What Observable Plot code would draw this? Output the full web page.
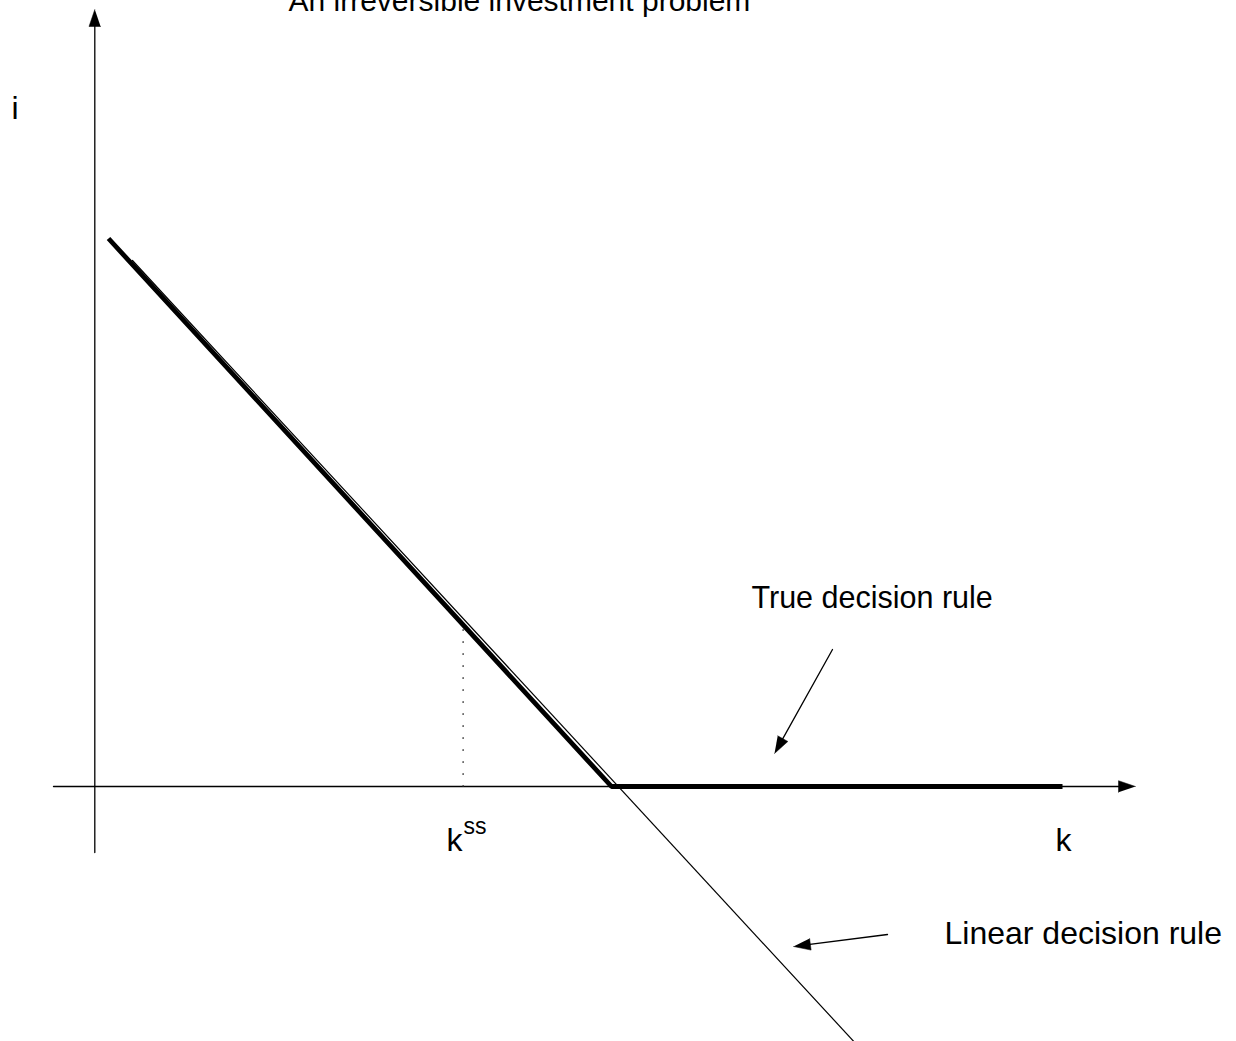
<!DOCTYPE html>
<html><head><meta charset="utf-8">
<script src="https://cdn.jsdelivr.net/npm/d3@7"></script>
<script src="https://cdn.jsdelivr.net/npm/@observablehq/plot@0.6"></script>
<style>body{margin:0;background:#fff} svg{display:block}</style>
</head><body><div id="chart"></div>
<script>
// ---- data (abstract units: 1 unit of k or i) ----
const titleText = "An irreversible investment problem";
const trueRule = [ {k: 0.137, i: 5.48}, {k: 5.167, i: 0}, {k: 9.677, i: 0} ];
const linearRule = [ {k: 0.377, i: 5.26}, {k: 7.627, i: -2.59} ];
const kss = 3.683;
const kssLineTop = 1.59;
// axes and pointer arrows: start -> tip
const arrows = [
  {id: "kAxis", k0: -0.413, i0: 0, k1: 10.407, i1: 0},
  {id: "iAxis", k0: 0, i0: -0.66, k1: 0, i1: 7.77},
  {id: "truePtr", k0: 7.377, i0: 1.37, k1: 6.797, i1: 0.33},
  {id: "linPtr", k0: 7.927, i0: -1.48, k1: 6.987, i1: -1.60}
];
const labels = [
  {t: "i", k: -0.833, i: 6.78, size: 32},
  {t: "k", k: 3.517, i: -0.538, size: 32},
  {t: "ss", k: 3.687, i: -0.40, size: 23},
  {t: "k", k: 9.607, i: -0.538, size: 32},
  {t: "True decision rule", k: 6.567, i: 1.878, size: 30.5},
  {t: "Linear decision rule", k: 8.497, i: -1.468, size: 32}
];
const titlePos = {k: 1.937, i: 7.856, size: 30};

// ---- arrowheads derived from arrow specs ----
const headLen = 0.17, headHalf = 0.058;
const heads = arrows.flatMap(a => {
  const dk = a.k1 - a.k0, di = a.i1 - a.i0, L = Math.hypot(dk, di);
  const uk = dk / L, ui = di / L;
  const bk = a.k1 - uk * headLen, bi = a.i1 - ui * headLen;
  return [
    {id: a.id, k: a.k1, i: a.i1},
    {id: a.id, k: bk - ui * headHalf, i: bi + uk * headHalf},
    {id: a.id, k: bk + ui * headHalf, i: bi - uk * headHalf}
  ];
});
const shafts = arrows.flatMap(a => {
  const L = Math.hypot(a.k1 - a.k0, a.i1 - a.i0);
  return [
    {id: a.id, k: a.k0, i: a.i0},
    {id: a.id, k: a.k1 - (a.k1 - a.k0) / L * headLen * 0.5, i: a.i1 - (a.i1 - a.i0) / L * headLen * 0.5}
  ];
});
const dotted = [{k: kss, i: 0}, {k: kss, i: kssLineTop}];

const font = "'Liberation Sans', Arial, Helvetica, sans-serif";
const chart = Plot.plot({
  width: 1236, height: 1041,
  margin: 0,
  x: {domain: [-0.943, 11.417], range: [0, 1236], axis: null},
  y: {domain: [-2.55, 7.86], range: [1041, 0], axis: null},
  style: {fontFamily: font, background: "#fff", color: "#000", overflow: "visible"},
  marks: [
    Plot.line(shafts, {x: "k", y: "i", z: "id", stroke: "#000", strokeWidth: 1.3}),
    Plot.line(heads, {x: "k", y: "i", z: "id", fill: "#000", stroke: "#000", strokeWidth: 0.5}),
    Plot.line(dotted, {x: "k", y: "i", stroke: "#222", strokeWidth: 1.2, strokeDasharray: "1,11"}),
    Plot.line(linearRule, {x: "k", y: "i", stroke: "#000", strokeWidth: 1.2}),
    Plot.line(trueRule, {x: "k", y: "i", stroke: "#000", strokeWidth: 4.8, strokeLinejoin: "miter", strokeLinecap: "butt"}),
    Plot.text(labels, {x: "k", y: "i", text: "t", fontSize: d => d.size, textAnchor: "start", lineAnchor: "middle", fill: "#000"}),
    Plot.text([titlePos], {x: "k", y: "i", text: () => titleText, fontSize: titlePos.size, textAnchor: "start", lineAnchor: "middle", fill: "#000"})
  ]
});
document.getElementById("chart").append(chart);
</script>
</body></html>
